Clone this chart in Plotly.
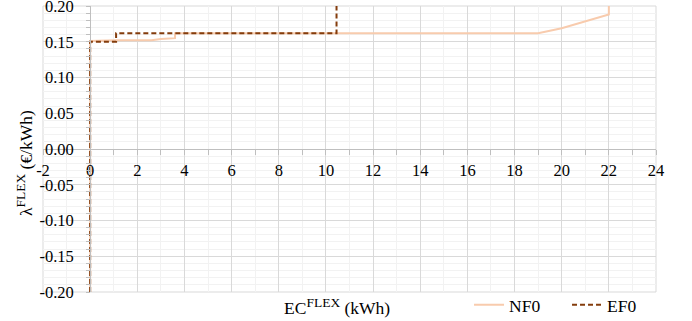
import plotly.graph_objects as go

# ---- data ----
nf0_x = [0, 0, 1.1, 2.6, 3.0, 3.6, 3.6, 19.0, 20.0, 22.0, 22.0]
nf0_y = [-0.2, 0.151, 0.152, 0.152, 0.154, 0.155, 0.162, 0.162, 0.169, 0.188, 0.2]
ef0_x = [0, 0, 1.1, 1.1, 10.45, 10.45]
ef0_y = [-0.2, 0.150, 0.150, 0.162, 0.162, 0.2]

x_tickvals = [-2, 0, 2, 4, 6, 8, 10, 12, 14, 16, 18, 20, 22, 24]
x_ticktext = ["-2", "0", "2", "4", "6", "8", "10", "12", "14", "16", "18", "20", "22", "24"]
y_tickvals = [0.20, 0.15, 0.10, 0.05, 0.00, -0.05, -0.10, -0.15, -0.20]
y_ticktext = ["0.20", "0.15", "0.10", "0.05", "0.00", "-0.05", "-0.10", "-0.15", "-0.20"]

FONT = "Liberation Serif, Times New Roman, serif"
TICK_SIZE = 16.5
TITLE_SIZE = 17.5

fig = go.Figure()
fig.add_trace(go.Scatter(x=nf0_x, y=nf0_y, mode="lines", name="NF0",
                         line=dict(color="#F8CBAD", width=2)))
fig.add_trace(go.Scatter(x=ef0_x, y=ef0_y, mode="lines", name="EF0",
                         line=dict(color="#843C0C", width=2, dash="5px,3px")))

X0, X1 = -2, 24
fig.update_layout(
    width=692, height=321,
    margin=dict(l=43, r=36, t=6, b=29, autoexpand=False),
    paper_bgcolor="white", plot_bgcolor="white",
    font=dict(family=FONT, size=TICK_SIZE, color="black"),
    showlegend=True,
    legend=dict(orientation="h", x=0.695, y=-0.045, xanchor="left", yanchor="middle",
                font=dict(family=FONT, size=TITLE_SIZE, color="black"),
                entrywidth=53, entrywidthmode="pixels", itemwidth=30,
                bgcolor="rgba(0,0,0,0)"),
    xaxis=dict(range=[X0, X1], domain=[0, 1], anchor="free", position=0.5,
               automargin=False,
               tickmode="array", tickvals=x_tickvals, ticktext=x_ticktext,
               showline=True, linecolor="#BFBFBF", linewidth=1,
               ticks="outside", ticklen=5, tickcolor="#BFBFBF",
               ticklabelstandoff=1, ticklabeloverflow="allow",
               tickfont=dict(family=FONT, size=TICK_SIZE, color="black"),
               showgrid=True, gridcolor="#D9D9D9", gridwidth=1,
               zeroline=False,
               minor=dict(tickmode="linear", tick0=0, dtick=1, showgrid=True,
                          gridcolor="#F2F2F2", ticks="outside", ticklen=5,
                          tickcolor="#BFBFBF")),
    yaxis=dict(range=[-0.2, 0.2], domain=[0, 1], anchor="free",
               position=(0 - X0) / (X1 - X0), automargin=False,
               tickmode="array", tickvals=y_tickvals, ticktext=y_ticktext,
               showline=True, linecolor="#BFBFBF", linewidth=1,
               ticks="outside", ticklen=4, tickcolor="#BFBFBF",
               ticklabelstandoff=9, ticklabeloverflow="allow",
               tickfont=dict(family=FONT, size=TICK_SIZE, color="black"),
               showgrid=True, gridcolor="#D9D9D9", gridwidth=1,
               zeroline=False,
               minor=dict(tickmode="linear", tick0=0, dtick=0.01, showgrid=True,
                          gridcolor="#F2F2F2", ticks="outside", ticklen=4,
                          tickcolor="#BFBFBF")),
    shapes=[dict(type="rect", xref="paper", yref="paper", x0=0, x1=1, y0=0, y1=1,
                 line=dict(color="#D9D9D9", width=1), layer="below")],
    annotations=[
        dict(text="EC<sup><span style='font-size:13.5px'>FLEX</span></sup> (kWh)",
             xref="paper", yref="paper",
             x=0.4796, y=-0.05, showarrow=False, xanchor="center", yanchor="middle",
             font=dict(family=FONT, size=TITLE_SIZE, color="black")),
        dict(text="λ<sup><span style='font-size:13.5px'>FLEX</span></sup> (€/kWh)",
             xref="paper", yref="paper",
             x=-0.031, y=0.451, showarrow=False, textangle=-90,
             xanchor="center", yanchor="middle",
             font=dict(family=FONT, size=TITLE_SIZE, color="black")),
    ],
)

fig.write_html("out.html", config={"displayModeBar": False},
               post_script="document.body.style.margin='0';document.body.style.overflow='hidden';")
